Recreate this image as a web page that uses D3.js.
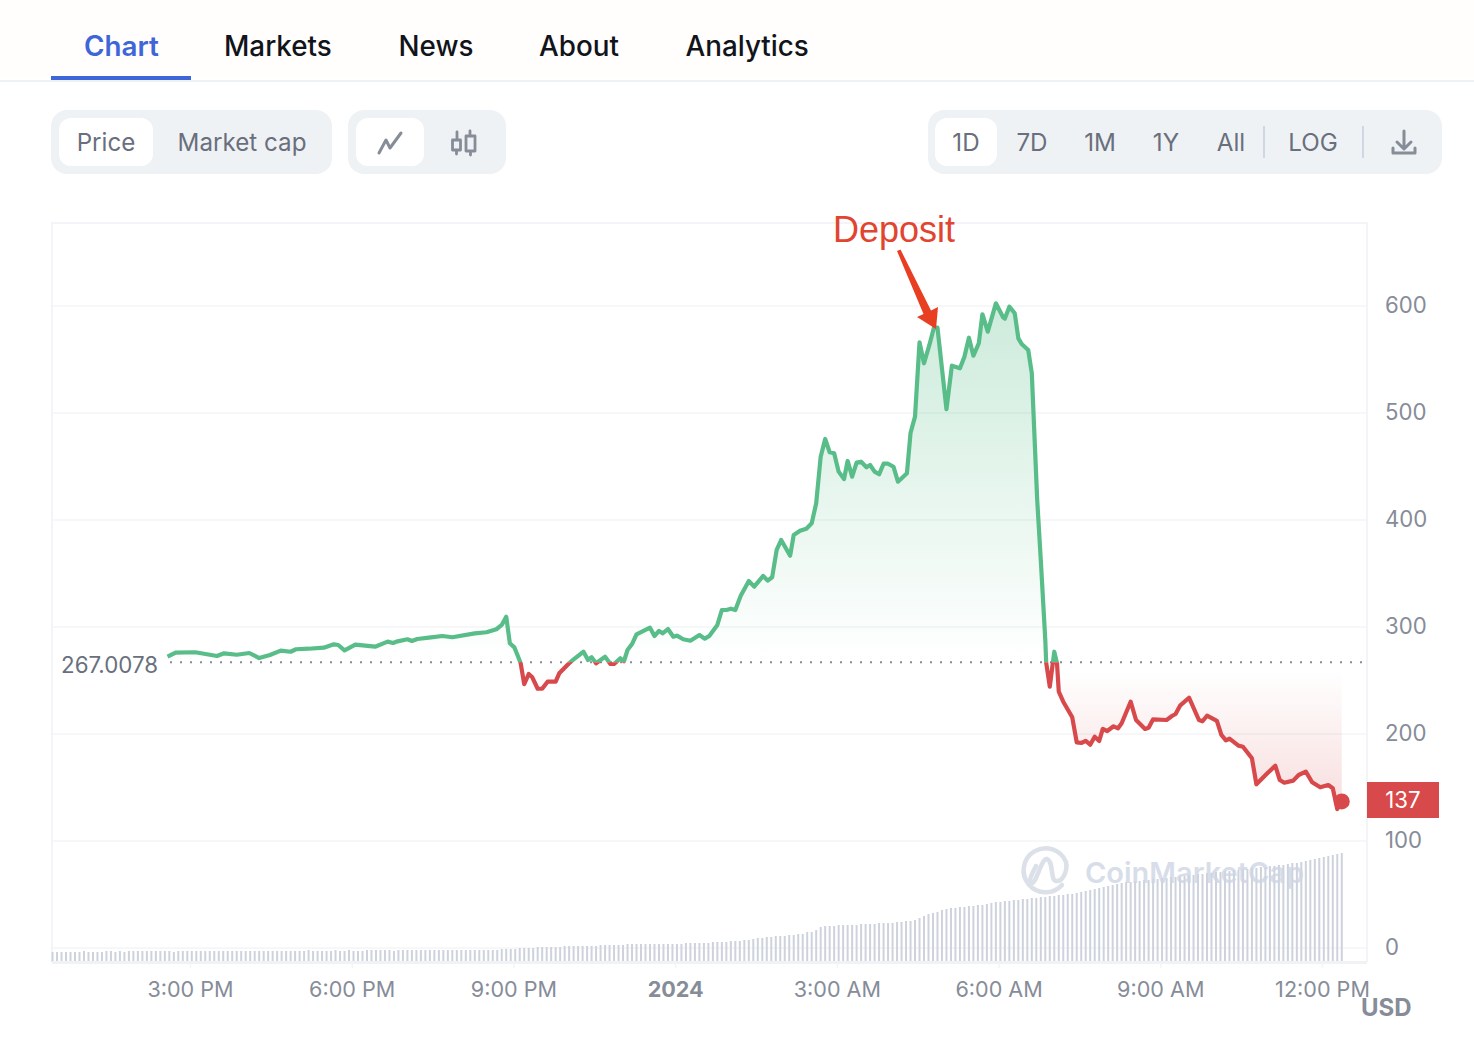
<!DOCTYPE html>
<html><head><meta charset="utf-8">
<script src="https://d3js.org/d3.v7.min.js"></script>
<style>html,body{margin:0;background:#fff}svg{display:block}text{font-family:Inter,"Noto Sans",sans-serif}</style>
</head><body><svg id="c" width="1474" height="1046"></svg>
<script>
// minutes relative to midnight 1 Jan 2024
const minutes=[-565,-556,-534,-510,-502,-488,-474,-463,-451,-439,-428,-422,-408,-391,-380,-375,-368,-356,-334,-320,-314,-309,-298,-293,-287,-274,-259,-248,-223,-210,-199,-193,-188,-184,-179,-172,-168,-163,-159,-153,-148,-142,-133,-129,-118,-113,-102,-97,-93,-88,-78,-72,-68,-61,-57,-53,-48,-43,-28,-23,-18,-14,-8,-2,2,9,17,27,33,38,47,52,57,62,67,73,82,88,98,103,108,113,118,128,132,139,146,152,157,162,167,172,177,182,188,192,197,202,207,213,217,222,227,232,237,243,248,258,262,267,272,277,283,288,292,302,308,317,322,327,332,338,342,348,357,365,367,372,378,382,386,393,397,403,407,412,413,417,422,425,427,432,442,447,452,457,462,467,472,476,481,488,493,497,507,513,523,527,532,547,553,557,562,572,583,587,592,603,608,613,617,627,632,642,647,658,668,673,678,688,694,702,709,718,727,732,737,742];
const prices=[272.2,276,276.4,272.9,275.4,274.1,275.7,271,273.8,277.9,276.9,279.2,279.7,280.7,283.8,283.2,278.2,283.5,281.6,286.3,285.1,286.6,288.5,286.9,288.8,290,291.6,290.4,294.1,295.1,297.9,301.9,309.6,284.8,281,266.4,246.5,256.1,253,242.3,242.3,248.9,248.9,256.7,266.1,269.8,276.9,269.2,271.7,266.1,272.2,265.4,265.4,270.8,268,278.5,284.1,293.2,299.4,291.6,296.3,294.1,298.1,290.9,291.9,288.5,287.2,292.5,289.1,291.6,301.9,315.9,315.9,317.1,315.9,329.3,343,337.7,347.7,343.3,346.5,372,381.3,366.6,386,390,391.9,396.9,415.6,459.2,475.7,463.3,462.4,445.2,438.3,455.2,440.5,453.6,454.5,449.3,451.4,445.2,442.7,452.6,452.6,449.8,435.8,443.7,481.3,496.6,566.1,546.5,563.6,579.7,579.7,503.5,544.2,541.8,552.6,570.4,553.6,565.2,592.3,576,602.5,589.5,588.2,599.4,593.2,569.8,564.2,558.9,537.1,418.7,362.6,287.9,266.6,244.2,276.9,266.4,239.5,230.2,215.6,192.2,191.6,193.5,190,197.5,193.5,204.7,202.8,207.2,205.3,210,230.2,213.1,204.7,205.9,213.7,213.1,216.8,218.7,226.5,233.9,213.1,211.9,217.1,212.2,199.1,194.1,195.6,189.1,188.1,177.3,153,162.3,170.4,157,154.5,156.4,161.7,164.8,154.9,150.2,152.3,149.3,129.9,137];
const volume=[10,10,10,10,10,10,10,11,10,10,10,10,11,11,10,11,10,11,11,11,11,11,11,11,
11,11,11,10,11,11,11,11,11,11,11,11,11,11,11,11,11,11,11,11,11,11,11,11,
11,11,11,11,11,11,11,11,11,12,11,11,11,11,11,12,11,11,12,11,11,11,12,12,
12,12,12,12,11,12,12,12,12,12,12,12,12,12,12,12,12,12,12,12,12,12,12,12,
12,12,12,12,13,13,13,13,14,14,14,14,15,15,15,15,15,15,16,16,16,16,16,16,
16,16,17,17,17,17,17,17,18,18,18,18,18,18,18,18,18,18,18,18,18,19,19,19,
19,19,19,20,20,20,20,21,21,21,22,22,23,24,24,25,25,26,26,26,27,27,28,28,
30,30,32,35,36,36,36,37,37,37,37,37,38,38,38,38,39,39,39,39,40,40,41,41,
42,44,46,48,49,50,52,53,54,54,55,55,56,56,57,57,58,59,60,60,61,61,62,62,
63,63,64,64,65,65,66,66,67,67,68,68,69,70,71,72,73,74,75,76,77,78,79,80,
80,81,81,82,82,83,83,84,84,85,85,86,86,87,87,88,88,89,89,90,90,91,91,92,
92,93,93,94,94,95,95,96,96,97,97,98,99,99,100,101,102,103,104,105,106,107,108,109];
const volumeMinuteStart=-693, volumeStep=5;
const openPrice=267.0078, lastPrice=137;
const yTicks=[0,100,200,300,400,500,600];
const xTickMinutes=[-540,-360,-180,0,180,360,540,720];
const xTickLabels=["3:00 PM","6:00 PM","9:00 PM","2024","3:00 AM","6:00 AM","9:00 AM","12:00 PM"];
const tabs=["Chart","Markets","News","About","Analytics"];
const ranges=["1D","7D","1M","1Y","All","LOG"];

const C={green:"#58bd88",red:"#d8494b",grid:"#f2f4f7",pill:"#eff2f5",grey:"#696f7c",light:"#868c98",bar:"#cdd2dc"};
const svg=d3.select("#c");
const defs=svg.append("defs");
const x=d3.scaleLinear().domain([-540,720]).range([190,1322]);
const y=d3.scaleLinear().domain([0,600]).range([948,306]);
const v=d3.scaleLinear().domain([0,109]).range([962,853]);
const pts=minutes.map((m,i)=>({m,p:prices[i]}));
const by=y(openPrice);

svg.append("rect").attr("width",1474).attr("height",78).attr("fill","#fffefd");
// tabs
const tabX=[84,224,398.5,539,685.5];
tabs.forEach((t,i)=>svg.append("text").attr("x",tabX[i]).attr("y",56).attr("font-size",27.8)
  .attr("font-weight",i?450:600).attr("fill",i?"#11141a":"#3f66d8").text(t));
svg.append("rect").attr("x",0).attr("y",80).attr("width",1474).attr("height",2).attr("fill","#eff2f5");
svg.append("rect").attr("x",51).attr("y",76).attr("width",140).attr("height",4).attr("fill","#3f66d8");

// control pills
function pill(x0,x1,a0,a1){
  svg.append("rect").attr("x",x0).attr("y",110).attr("width",x1-x0).attr("height",64).attr("rx",16).attr("fill",C.pill);
  svg.append("rect").attr("x",a0).attr("y",118).attr("width",a1-a0).attr("height",48).attr("rx",12).attr("fill","#fff");
}
pill(51,332,59,153);pill(348,506,356,424);pill(928,1442,935,997);
const lab=(t,cx,fs=24.2)=>svg.append("text").attr("x",cx).attr("y",151).attr("font-size",fs).attr("text-anchor","middle").attr("fill",C.grey).text(t);
lab("Price",106);lab("Market cap",242);
const rx=[966,1032,1100,1166,1231,1313];
ranges.forEach((r,i)=>lab(r,rx[i]));
[1264,1363].forEach(s=>svg.append("line").attr("x1",s).attr("x2",s).attr("y1",126).attr("y2",158).attr("stroke","#cfd6e4").attr("stroke-width",2));
const icon=(d,w=3)=>svg.append("path").attr("d",d).attr("fill","none").attr("stroke",C.light).attr("stroke-width",w).attr("stroke-linecap","round").attr("stroke-linejoin","round");
icon("M379 153L386 140L390 148L401 133");
icon("M457 132V140M452.5 140h8v10h-8zM456.5 150V154M470 131V136M466 136h9v15h-9zM470.5 151V155",2.8);
icon("M1404 131V148M1397 142L1404 149L1411 142M1393 148V153H1415V148");

// plot frame & grid
svg.append("g").selectAll("line").data(yTicks).join("line").attr("x1",52).attr("x2",1367)
  .attr("y1",d=>y(d)).attr("y2",d=>y(d)).attr("stroke",C.grid).attr("stroke-width",1.5);
svg.append("path").attr("d","M52 962V223H1367V962").attr("fill","none").attr("stroke",C.grid).attr("stroke-width",2);

// volume bars
svg.append("g").selectAll("rect").data(volume).join("rect")
  .attr("x",(d,i)=>x(volumeMinuteStart+i*volumeStep)-1).attr("width",2)
  .attr("y",d=>v(d)).attr("height",d=>v(0)-v(d)).attr("fill",C.bar);
svg.append("rect").attr("x",52).attr("y",961).attr("width",1315).attr("height",3).attr("fill","#f0f2f6");

// area + line, split at the opening price
const gG=defs.append("linearGradient").attr("id","gg").attr("gradientUnits","userSpaceOnUse").attr("x1",0).attr("x2",0).attr("y1",y(600)).attr("y2",by);
gG.append("stop").attr("offset",0).attr("stop-color","#58bd88").attr("stop-opacity",.3);
gG.append("stop").attr("offset",1).attr("stop-color","#58bd88").attr("stop-opacity",0);
const gR=defs.append("linearGradient").attr("id","gr").attr("gradientUnits","userSpaceOnUse").attr("x1",0).attr("x2",0).attr("y1",by+8).attr("y2",y(120));
gR.append("stop").attr("offset",0).attr("stop-color","#d8494b").attr("stop-opacity",0);
gR.append("stop").attr("offset",1).attr("stop-color","#d8494b").attr("stop-opacity",.2);
defs.append("clipPath").attr("id","up").append("rect").attr("x",0).attr("y",0).attr("width",1474).attr("height",by);
defs.append("clipPath").attr("id","dn").append("rect").attr("x",0).attr("y",by).attr("width",1474).attr("height",1046-by);
const area=d3.area().x(d=>x(d.m)).y0(by).y1(d=>y(d.p));
const line=d3.line().x(d=>x(d.m)).y(d=>y(d.p));
svg.append("path").datum(pts).attr("d",area).attr("fill","url(#gg)").attr("clip-path","url(#up)");
svg.append("path").datum(pts).attr("d",area).attr("fill","url(#gr)").attr("clip-path","url(#dn)");
svg.append("line").attr("x1",170).attr("x2",1367).attr("y1",by).attr("y2",by).attr("stroke",C.light).attr("stroke-width",2).attr("stroke-dasharray","2 8");
[["up",C.green],["dn",C.red]].forEach(([c,col])=>svg.append("path").datum(pts).attr("d",line).attr("fill","none")
  .attr("stroke",col).attr("stroke-width",4.2).attr("stroke-linejoin","round").attr("clip-path",`url(#${c})`));
svg.append("circle").attr("cx",x(742)).attr("cy",y(lastPrice)).attr("r",8).attr("fill",C.red);

// watermark
const wm=svg.append("g").attr("opacity",.8);
wm.append("path").attr("d","M1062 885A22 22 0 1 1 1066 862C1068 872 1062 882 1056 881C1050 880 1054 862 1047 859C1041 858 1036 886 1031 883C1028 881 1033 872 1036 866")
  .attr("fill","none").attr("stroke","#d3d9e4").attr("stroke-width",4.5).attr("stroke-linecap","round");
wm.append("text").attr("x",1085).attr("y",883).attr("font-size",29).attr("font-weight",600).attr("fill","#cfd6e4").text("CoinMarketCap");

// axes
const yAxis=d3.axisRight(y).tickValues(yTicks).tickSize(0).tickPadding(0);
const gy=svg.append("g").attr("transform","translate(1385,-1)").call(yAxis);
gy.select(".domain").remove();
gy.selectAll("text").attr("font-size",22.2).attr("fill",C.light).attr("font-family","Inter");
const xAxis=d3.axisBottom(x).tickValues(xTickMinutes).tickFormat((d,i)=>xTickLabels[i]).tickSize(5).tickPadding(14);
const gx=svg.append("g").attr("transform","translate(0,963)").call(xAxis);
gx.select(".domain").remove();
gx.selectAll("line").attr("stroke",C.grid).attr("stroke-width",1.5);
gx.selectAll("text").attr("font-size",21.6).attr("fill",C.light).attr("font-family","Inter")
  .attr("font-weight",d=>d===0?700:400);

svg.append("text").attr("x",1361).attr("y",1016).attr("font-size",24).attr("font-weight",700).attr("fill",C.light).text("USD");
svg.append("text").attr("x",158).attr("y",673).attr("text-anchor","end").attr("font-size",22.3).attr("fill",C.grey).text(d3.format(".4f")(openPrice));
svg.append("rect").attr("x",1367).attr("y",782).attr("width",72).attr("height",36).attr("fill",C.red);
svg.append("text").attr("x",1403).attr("y",808).attr("text-anchor","middle").attr("font-size",22.2).attr("fill","#fff").text(lastPrice);

// annotation
svg.append("text").attr("x",833).attr("y",242).attr("font-size",36).attr("fill","#e2452f").style("font-family","'Liberation Sans',Arial,sans-serif").text("Deposit");
svg.append("path").attr("d","M897 251L900.5 249.5L931 310.5L938 307L936 329L917 317L923.5 314Z").attr("fill","#e83e22");
</script></body></html>
